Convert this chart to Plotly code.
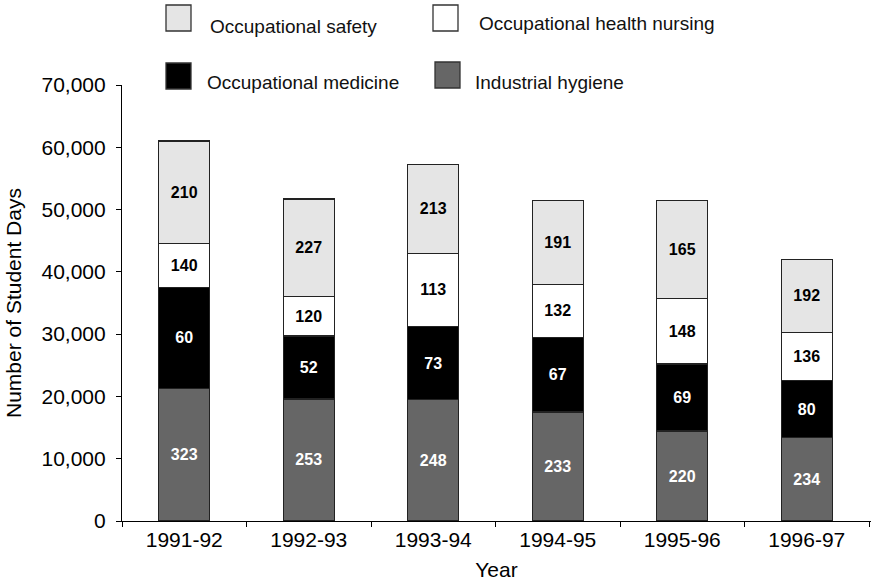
import plotly.graph_objects as go

years = ["1991-92", "1992-93", "1993-94", "1994-95", "1995-96", "1996-97"]

# Student days per discipline (stack heights)
hygiene = [21300, 19600, 19500, 17500, 14450, 13400]
medicine = [16200, 10100, 11700, 12000, 10750, 9100]
nursing = [7000, 6400, 11800, 8500, 10550, 7800]
safety = [16500, 15600, 14200, 13500, 15750, 11700]

# Labels printed inside the segments
hygiene_n = [323, 253, 248, 233, 220, 234]
medicine_n = [60, 52, 73, 67, 69, 80]
nursing_n = [140, 120, 113, 132, 148, 136]
safety_n = [210, 227, 213, 191, 165, 192]

names = ["Industrial hygiene", "Occupational medicine",
         "Occupational health nursing", "Occupational safety"]
fills = ["#666666", "#000000", "#ffffff", "#e5e5e5"]
txtcol = ["#ffffff", "#ffffff", "#000000", "#000000"]

FONT = "Liberation Sans, Arial, Helvetica, sans-serif"
W, H = 871, 584
L, R, T, B = 122, 0, 85, 63

fig = go.Figure()
for vals, labs, nm, fc, tc in zip([hygiene, medicine, nursing, safety],
                                  [hygiene_n, medicine_n, nursing_n, safety_n],
                                  names, fills, txtcol):
    fig.add_trace(go.Bar(
        x=years, y=vals, name=nm, text=[str(v) for v in labs],
        textposition="inside", insidetextanchor="middle", textangle=0,
        constraintext="none",
        textfont=dict(family=FONT, size=16, color=tc, weight="bold"),
        marker=dict(color=fc, line=dict(color="#222222", width=1.2)),
        width=0.41, showlegend=False, hoverinfo="skip"))

def px_x(p):
    return (p - L) / (W - L - R)

def px_y(p):
    return (H - B - p) / (H - T - B)

# custom legend (2 x 2)
leg = [
    ("Occupational safety", "#e5e5e5", 166, 5, 208, 26),
    ("Occupational health nursing", "#ffffff", 433, 5, 477, 23),
    ("Occupational medicine", "#000000", 166, 63, 205, 83),
    ("Industrial hygiene", "#666666", 435, 62, 473, 82),
]
for text, col, bx, by, tx, ty in leg:
    fig.add_shape(type="rect", xref="paper", yref="paper",
                  x0=px_x(bx), x1=px_x(bx + 25), y0=px_y(by), y1=px_y(by + 26),
                  fillcolor=col, line=dict(color="#333333", width=1.3))
    fig.add_annotation(xref="paper", yref="paper", x=px_x(tx), y=px_y(ty),
                       xanchor="left", yanchor="middle", showarrow=False,
                       text=text, font=dict(family=FONT, size=19, color="#111111"))

fig.update_layout(
    barmode="stack", width=W, height=H,
    margin=dict(l=L, r=R, t=T, b=B, autoexpand=False),
    paper_bgcolor="white", plot_bgcolor="white",
    font=dict(family=FONT, size=21, color="#000000"),
    xaxis=dict(range=[-0.5, 5.516], showline=True, linecolor="#000000", linewidth=1.2,
               ticks="outside", tickson="boundaries", ticklen=5, tickcolor="#000000",
               showgrid=False, tickfont=dict(size=21),
               title=dict(text="Year", font=dict(size=21), standoff=12)),
    yaxis=dict(range=[0, 70000], dtick=10000, tickformat=",", showline=True,
               linecolor="#000000", linewidth=1.2, ticks="outside", ticklen=5,
               tickcolor="#000000", showgrid=False, zeroline=False,
               tickfont=dict(size=21), ticklabelstandoff=6,
               title=dict(text="Number of Student Days", font=dict(size=21), standoff=14)),
)

fig.write_html("out.html", config={"displayModeBar": False},
               post_script="document.body.style.margin='0';")
